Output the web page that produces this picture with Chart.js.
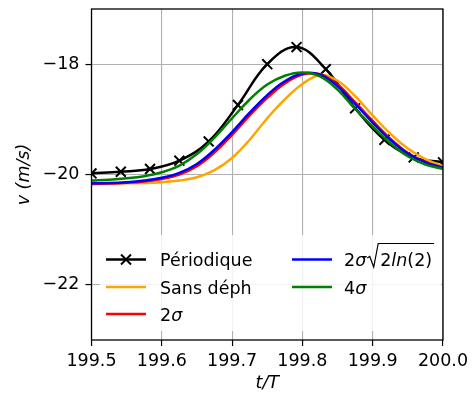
<!DOCTYPE html>
<html>
<head>
<meta charset="utf-8">
<script src="https://cdn.jsdelivr.net/npm/chart.js@4.4.0/dist/chart.umd.min.js"></script>
<style>
  html, body { margin: 0; padding: 0; background: #fff; }
</style>
</head>
<body>
<canvas id="chart" width="472" height="397"></canvas>
<script>
// ---------- data ----------
// marker times for the periodic curve (every T/24)
const T_MARK = [199.5, 199.5417, 199.5833, 199.625, 199.6667, 199.7083, 199.75,
                199.7917, 199.8333, 199.875, 199.9167, 199.9583, 200.0];
const V_PERIODIQUE = [-19.98, -19.95, -19.90, -19.75, -19.40, -18.74, -18.00,
                      -17.69, -18.09, -18.80, -19.37, -19.69, -19.78];

// sample times for the other curves
const T_FINE = [199.5, 199.525, 199.55, 199.575, 199.6, 199.625, 199.65, 199.675,
                199.7, 199.725, 199.75, 199.775, 199.8, 199.825, 199.85, 199.875,
                199.9, 199.925, 199.95, 199.975, 200.0];
const V_SANS_DEPH = [-20.17, -20.17, -20.16, -20.155, -20.14, -20.11, -20.05, -19.92,
                     -19.70, -19.37, -18.98, -18.64, -18.36, -18.20, -18.30, -18.58,
                     -18.93, -19.26, -19.53, -19.72, -19.85];
const V_2SIG = [-20.17, -20.165, -20.15, -20.125, -20.08, -20.00, -19.85, -19.60,
                -19.28, -18.93, -18.61, -18.35, -18.19, -18.18, -18.37, -18.69,
                -19.03, -19.35, -19.61, -19.77, -19.88];
const V_2SIG_LN = [-20.16, -20.155, -20.14, -20.11, -20.06, -19.97, -19.81, -19.55,
                   -19.23, -18.88, -18.56, -18.31, -18.17, -18.19, -18.40, -18.72,
                   -19.06, -19.37, -19.62, -19.78, -19.88];
const V_4SIG = [-20.11, -20.095, -20.07, -20.03, -19.96, -19.84, -19.63, -19.33,
                -18.98, -18.64, -18.37, -18.21, -18.15, -18.22, -18.46, -18.81,
                -19.13, -19.43, -19.67, -19.82, -19.90];

const X_TICKS = [199.5, 199.6, 199.7, 199.8, 199.9, 200.0];
const Y_TICKS = [-22, -20, -18];

const LABELS = ['Périodique', 'Sans déph', '2σ', '2σ√(2ln(2))', '4σ'];
const COLORS = ['#000000', '#ffa500', '#ff0000', '#0000ff', '#008000'];

const FONT = "'DejaVu Sans', sans-serif";

function pts(xs, ys) {
    return xs.map((x, i) => ({ x: x, y: ys[i] }));
}

function minus(v) {
    return (v < 0 ? '\u2212' : '') + Math.abs(v);
}

// ---------- plugins ----------
// matplotlib style legend inside the axes (2 columns)
const legendBox = {
    id: 'legendBox',
    afterDatasetsDraw(chart) {
        const ctx = chart.ctx;
        ctx.save();
        ctx.fillStyle = 'rgba(255,255,255,0.85)';
        ctx.beginPath();
        ctx.roundRect(100, 235, 341, 96, 4);
        ctx.fill();

        const rows = [259.5, 287, 314];
        const cols = [{ h: 106, t: 160 }, { h: 292, t: 344 }];
        const place = [[0, 0], [0, 1], [0, 2], [1, 0], [1, 1]];
        ctx.textBaseline = 'alphabetic';

        chart.data.datasets.forEach((ds, i) => {
            const c = cols[place[i][0]];
            const y = rows[place[i][1]];
            // handle
            ctx.strokeStyle = ds.borderColor;
            ctx.lineWidth = 2.5;
            ctx.beginPath();
            ctx.moveTo(c.h, y);
            ctx.lineTo(c.h + 40, y);
            ctx.stroke();
            if (ds.pointRadius > 0) {
                const r = 5;
                ctx.lineWidth = 2;
                ctx.beginPath();
                ctx.moveTo(c.h + 20 - r, y - r); ctx.lineTo(c.h + 20 + r, y + r);
                ctx.moveTo(c.h + 20 - r, y + r); ctx.lineTo(c.h + 20 + r, y - r);
                ctx.stroke();
            }
            // text
            ctx.fillStyle = '#000';
            const base = y + 6.5;
            let x = c.t;
            const put = (s, italic) => {
                ctx.font = (italic ? 'italic ' : '') + '17.5px ' + FONT;
                ctx.fillText(s, x, base);
                x += ctx.measureText(s).width;
            };
            const lab = ds.label;
            if (lab.indexOf('σ') < 0) {
                put(lab, false);
            } else {
                put(lab.charAt(0), false);
                put('σ', true);
                if (lab.indexOf('√') >= 0) {
                    // radical sign with overbar
                    const top = base - 22.5;
                    x += 1;
                    ctx.strokeStyle = '#000';
                    ctx.lineWidth = 1.2;
                    ctx.beginPath();
                    ctx.moveTo(x, base - 8);
                    ctx.lineTo(x + 2.5, base - 9.5);
                    ctx.lineTo(x + 6.5, base + 1);
                    ctx.lineTo(x + 11, top);
                    x += 13;
                    put('2', false);
                    put('ln', true);
                    put('(2)', false);
                    ctx.lineTo(x + 2, top);
                    ctx.stroke();
                }
            }
        });
        ctx.restore();
    }
};

// four spines around the axes
const spines = {
    id: 'spines',
    afterDraw(chart) {
        const a = chart.chartArea;
        const ctx = chart.ctx;
        ctx.save();
        ctx.strokeStyle = '#000';
        ctx.lineWidth = 1.3;
        ctx.strokeRect(a.left, a.top, a.right - a.left, a.bottom - a.top);
        ctx.restore();
    }
};

// ---------- chart ----------
const datasets = [
    { data: pts(T_MARK, V_PERIODIQUE), marker: true },
    { data: pts(T_FINE, V_SANS_DEPH) },
    { data: pts(T_FINE, V_2SIG) },
    { data: pts(T_FINE, V_2SIG_LN) },
    { data: pts(T_FINE, V_4SIG) }
].map((d, i) => ({
    label: LABELS[i],
    data: d.data,
    borderColor: COLORS[i],
    backgroundColor: COLORS[i],
    borderWidth: 2.5,
    fill: false,
    tension: 0.4,
    pointStyle: 'crossRot',
    pointRadius: d.marker ? 7 : 0,
    pointBorderWidth: 2,
    pointBorderColor: COLORS[i],
    order: LABELS.length - i
}));

new Chart(document.getElementById('chart'), {
    type: 'line',
    data: { datasets: datasets },
    plugins: [legendBox, spines],
    options: {
        responsive: false,
        animation: false,
        layout: { padding: { left: 0, right: 29, top: 9, bottom: 0 } },
        plugins: {
            legend: { display: false },
            tooltip: { enabled: false }
        },
        scales: {
            x: {
                type: 'linear',
                min: 199.5,
                max: 200.0,
                afterBuildTicks: s => { s.ticks = X_TICKS.map(v => ({ value: v })); },
                afterFit: s => { s.height = 57; s.paddingLeft = 0; s.paddingRight = 0; },
                ticks: {
                    autoSkip: false,
                    maxRotation: 0,
                    padding: 5,
                    color: '#000',
                    font: { family: FONT, size: 17.5 },
                    callback: v => v.toFixed(1)
                },
                grid: { color: '#b0b0b0', lineWidth: 1.1, tickColor: '#000', tickLength: 6, tickWidth: 1.2 },
                border: { display: false },
                title: {
                    display: true,
                    text: 't/T',
                    color: '#000',
                    font: { family: FONT, size: 17.5, style: 'italic' },
                    padding: { top: 0, bottom: 3 }
                }
            },
            y: {
                type: 'linear',
                min: -23,
                max: -17,
                afterBuildTicks: s => { s.ticks = Y_TICKS.map(v => ({ value: v })); },
                afterFit: s => { s.width = 91.5; s.paddingTop = 0; s.paddingBottom = 0; },
                ticks: {
                    padding: 6,
                    color: '#000',
                    font: { family: FONT, size: 17.5 },
                    callback: v => minus(v)
                },
                grid: { color: '#b0b0b0', lineWidth: 1.1, tickColor: '#000', tickLength: 6, tickWidth: 1.2 },
                border: { display: false },
                title: {
                    display: true,
                    text: 'v (m/s)',
                    color: '#000',
                    font: { family: FONT, size: 17.5, style: 'italic' },
                    padding: { top: 14, bottom: 0 }
                }
            }
        }
    }
});
</script>
</body>
</html>
